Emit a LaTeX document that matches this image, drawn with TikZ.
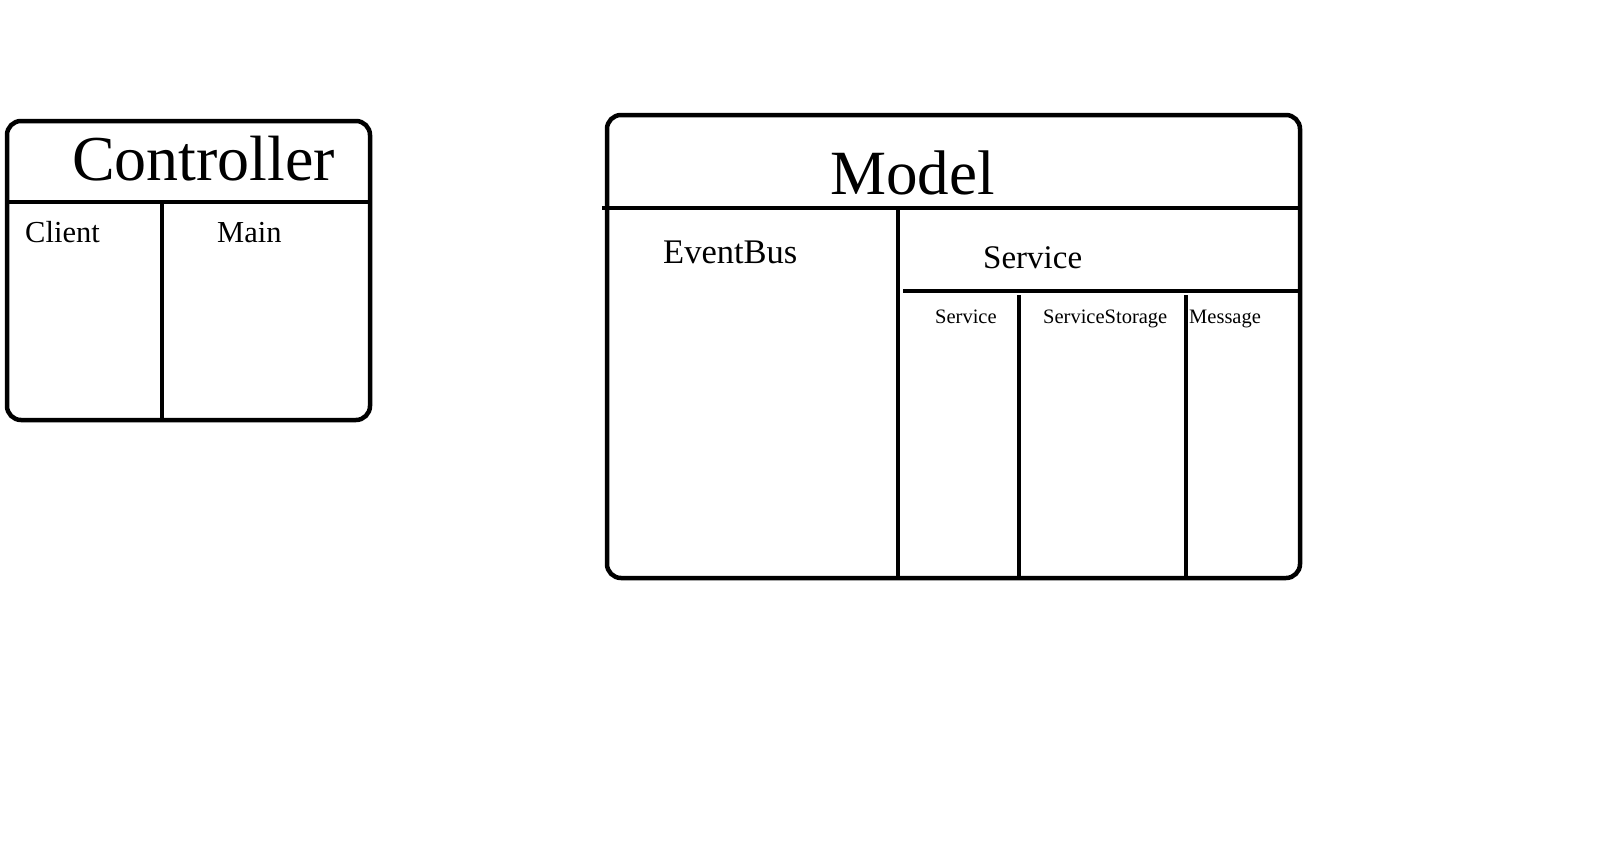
\documentclass[tikz,border=0pt]{standalone}
\usepackage{fontspec}
\setmainfont{Liberation Serif}

\begin{document}
\begin{tikzpicture}[
        x=1pt, y=-1pt,
        frame/.style={draw, line width=4.5pt, rounded corners=14pt},
        divider/.style={draw, line width=4.5pt},
        title/.style={anchor=base west, inner sep=0pt, font=\fontsize{64}{64}\selectfont},
        part/.style={anchor=base west, inner sep=0pt, font=\fontsize{33}{33}\selectfont},
        subpart/.style={anchor=base west, inner sep=0pt, font=\fontsize{20.5}{20.5}\selectfont}
      ]
        \useasboundingbox (0,0) rectangle (1616,860);

        % Controller
        \draw[frame] (7,121) rectangle (370,420);
        \draw[divider] (7,202) -- (370,202);
        \draw[divider] (162,202) -- (162,420);
        \node[title] (controller) at (72,180) {Controller};
        \node[part, font=\fontsize{30.5}{30.5}\selectfont] (client) at (25,242) {Client};
        \node[part, font=\fontsize{30.5}{30.5}\selectfont] (main) at (217,242) {Main};

        % Model
        \draw[frame] (607,115) rectangle (1300,578);
        \draw[divider] (602,208) -- (1300,208);
        \draw[divider] (898,208) -- (898,578);
        \node[title, font=\fontsize{63}{63}\selectfont] (model) at (830,194) {Model};
        \node[part, font=\fontsize{34.5}{34.5}\selectfont] (eventbus) at (663,263) {EventBus};

        % Service
        \draw[divider] (903,291) -- (1300,291);
        \draw[divider] (1019,295) -- (1019,578);
        \draw[divider] (1186,295) -- (1186,578);
        \node[part] (service) at (983,268) {Service};
        \node[subpart] (servicecls) at (935,323) {Service};
        \node[subpart] (storage) at (1043,323) {ServiceStorage};
        \node[subpart] (message) at (1189,323) {Message};

      \end{tikzpicture}
\end{document}
